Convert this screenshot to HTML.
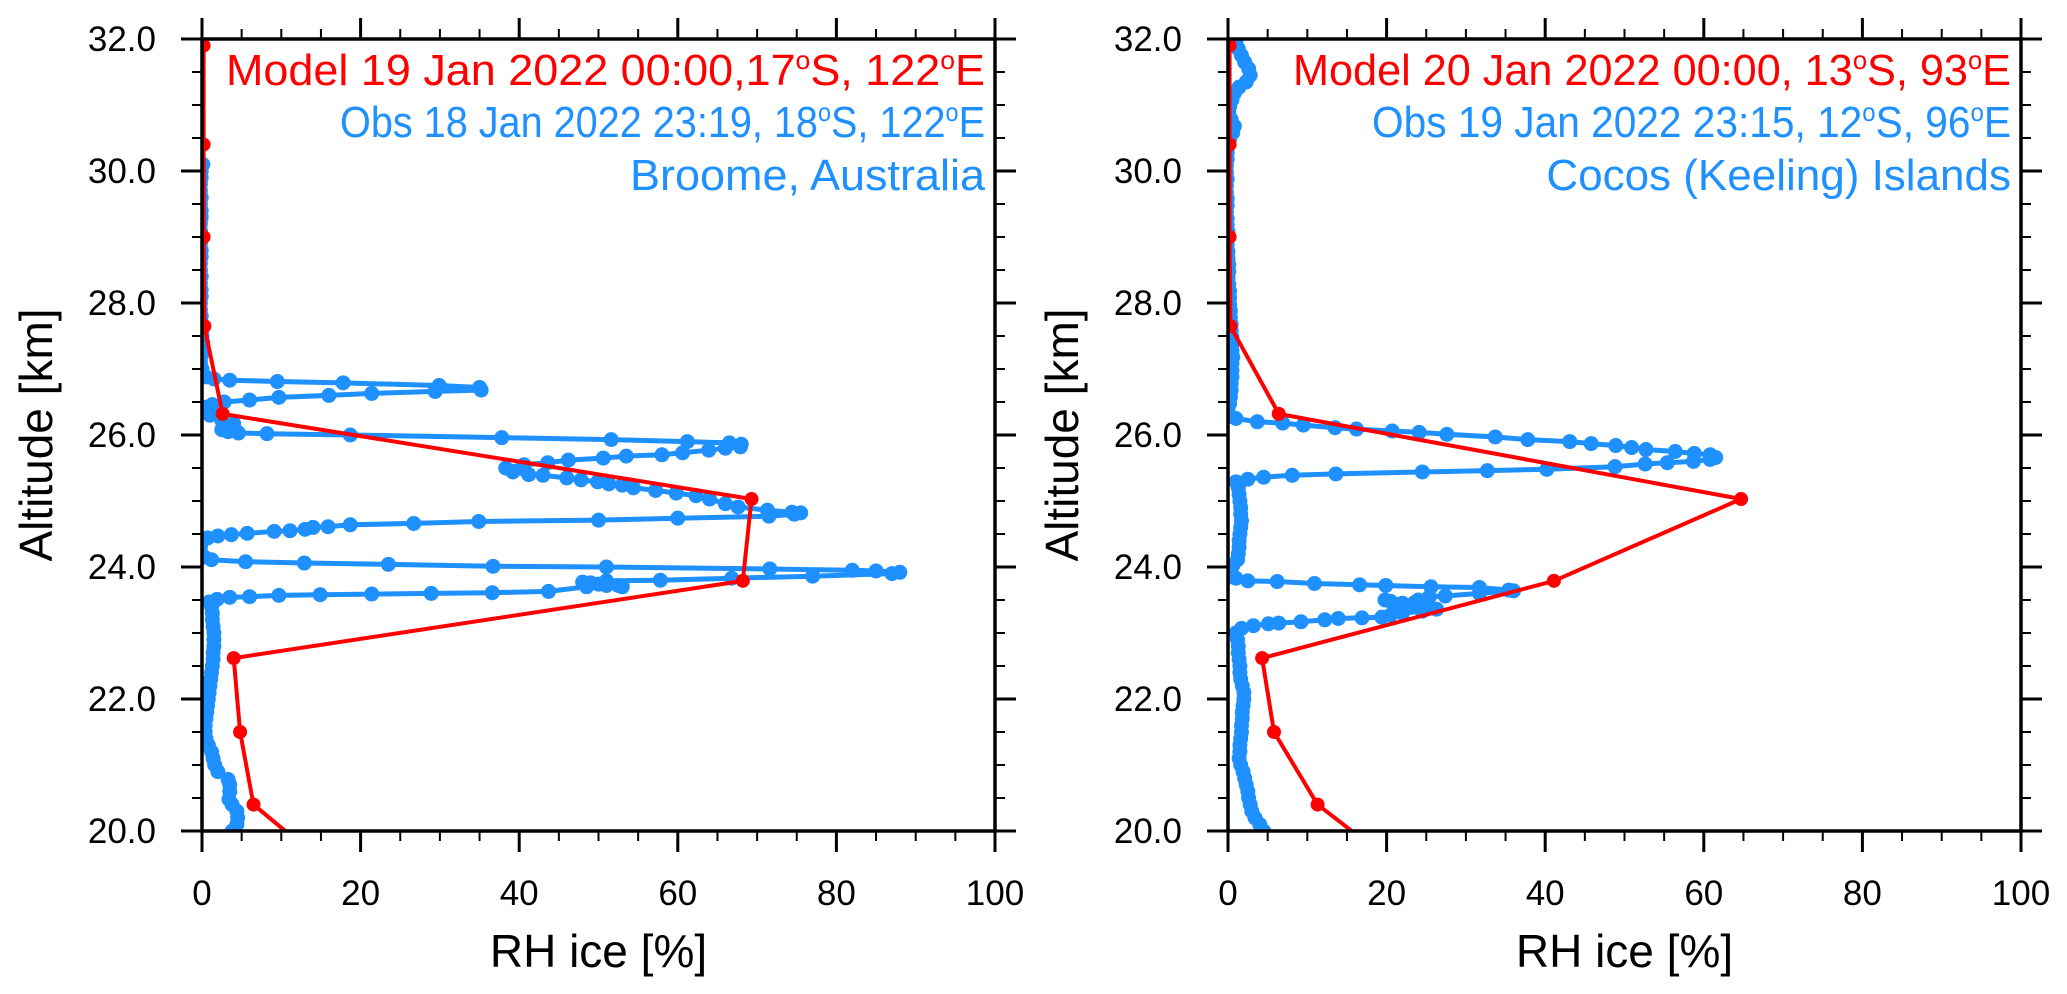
<!DOCTYPE html>
<html><head><meta charset="utf-8"><style>
html,body{margin:0;padding:0;background:#fff;}
svg{display:block;font-family:"Liberation Sans",Arial,sans-serif;}
</style></head><body>
<svg id="fig" width="2067" height="994" viewBox="0 0 2067 994" xmlns="http://www.w3.org/2000/svg">
<defs>
<clipPath id="clipL"><rect x="202" y="39" width="793" height="792"/></clipPath>
<clipPath id="clipR"><rect x="1228" y="39" width="793" height="792"/></clipPath>
</defs>
</svg>
<script>
// ---- data (RH ice %, altitude km) ----
const xTicks = [0, 20, 40, 60, 80, 100];
const xTickLabels = ["0", "20", "40", "60", "80", "100"];
const yTicks = [20, 22, 24, 26, 28, 30, 32];
const yTickLabels = ["20.0", "22.0", "24.0", "26.0", "28.0", "30.0", "32.0"];

const leftModel = [[0.2,31.9],[0.2,30.4],[0.2,29.0],[0.3,27.65],[2.6,26.32],[69.3,25.03],[68.2,23.79],[4.0,22.62],[4.8,21.5],[6.5,20.4],[16,19.45]];
const leftObs = [[0.1,30.1],[-0.1,30.0],[-0.1,29.9],[-0.2,29.8],[-0.2,29.7],[-0.1,29.6],[-0.2,29.5],[-0.1,29.4],[-0.1,29.3],[-0.2,29.2],[-0.2,29.1],[-0.1,29.0],[-0.2,28.9],[-0.1,28.8],[-0.1,28.7],[-0.2,28.6],[-0.2,28.5],[-0.1,28.4],[-0.2,28.3],[-0.1,28.2],[-0.1,28.1],[-0.2,28.0],[-0.2,27.9],[-0.1,27.8],[-0.1,27.7],[0.0,27.6],[0.0,27.5],[0.1,27.4],[0.0,27.3],[-0.1,27.2],[-0.2,27.1],[0.0,27.0],[0.5,26.88],[1.5,26.85],[3.5,26.83],[9.5,26.81],[17.8,26.79],[29.9,26.75],[35,26.72],[35.2,26.68],[29.4,26.66],[21.4,26.63],[16,26.6],[9.7,26.57],[6,26.53],[2.8,26.5],[1.3,26.46],[0.5,26.42],[0.3,26.36],[1,26.3],[2.5,26.22],[4,26.17],[3,26.13],[2.5,26.08],[3.3,26.05],[4.6,26.03],[8.2,26.02],[18.7,26.0],[37.8,25.96],[51.6,25.93],[61.2,25.9],[66.5,25.88],[68,25.86],[67.9,25.82],[66,25.8],[63.9,25.77],[60.6,25.73],[58,25.7],[53.5,25.68],[50.6,25.65],[46.2,25.62],[43.6,25.58],[40.6,25.55],[38.3,25.5],[39.2,25.44],[41.2,25.4],[43,25.39],[46,25.35],[47.8,25.32],[49.9,25.29],[51.3,25.26],[53,25.24],[54.4,25.2],[57.2,25.16],[59.8,25.12],[62.3,25.08],[64,25.03],[66,24.96],[67.6,24.91],[71.3,24.86],[74.4,24.83],[75.5,24.82],[74.7,24.8],[71.5,24.77],[60,24.74],[50,24.71],[34.9,24.69],[26.7,24.66],[18.7,24.64],[15.9,24.61],[14,24.6],[13,24.57],[11.1,24.55],[9.1,24.54],[5.7,24.51],[3.7,24.49],[2,24.47],[0.7,24.44],[0.1,24.4],[-0.2,24.3],[-0.1,24.2],[0.3,24.15],[1.2,24.11],[5.5,24.08],[12.9,24.06],[23.5,24.04],[36.7,24.01],[51,24.0],[71.6,23.97],[82,23.95],[85,23.94],[88,23.92],[87,23.9],[77,23.86],[66.8,23.83],[57.8,23.8],[51,23.79],[49,23.76],[48,23.77],[50,23.74],[52.5,23.72],[53,23.7],[51,23.72],[48.5,23.7],[43.7,23.63],[36.6,23.61],[28.9,23.6],[21.4,23.59],[14.9,23.58],[9.7,23.57],[6,23.55],[3.5,23.54],[1.9,23.51],[0.9,23.47],[1.2,23.4],[1.3,23.3],[1.3,23.2],[1.4,23.1],[1.5,23.0],[1.5,22.9],[1.5,22.8],[1.4,22.7],[1.4,22.6],[1.3,22.5],[1.2,22.4],[1.1,22.3],[1.0,22.2],[0.9,22.1],[0.8,22.0],[0.7,21.9],[0.6,21.8],[0.5,21.7],[0.4,21.6],[0.4,21.5],[0.5,21.4],[0.8,21.3],[1.2,21.2],[1.4,21.1],[1.6,21.0],[2.0,20.9],[3.3,20.78],[3.5,20.7],[3.5,20.6],[3.4,20.48],[3.8,20.4],[4.4,20.3],[4.5,20.2],[4.4,20.1],[3.8,20.0]];

const rightModel = [[0.2,31.9],[0.2,30.4],[0.2,29.0],[0.3,27.65],[6.4,26.32],[64.7,25.03],[41.1,23.79],[4.3,22.62],[5.8,21.5],[11.3,20.4],[21,19.5]];
const rightObs = [[1.0,31.95],[1.3,31.85],[1.7,31.75],[2.1,31.65],[2.6,31.55],[2.8,31.45],[2.3,31.35],[1.4,31.27],[0.8,31.18],[0.5,31.08],[0.2,30.98],[0.1,30.88],[0.4,30.78],[0.8,30.68],[0.6,30.58],[0.2,30.48],[0.0,30.38],[-0.1,30.28],[-0.1,30.18],[-0.2,30.08],[-0.2,29.98],[-0.1,29.88],[-0.2,29.78],[-0.2,29.68],[-0.1,29.58],[-0.1,29.48],[-0.2,29.38],[-0.1,29.28],[-0.1,29.18],[0.0,29.08],[-0.1,28.98],[-0.1,28.88],[0.0,28.78],[0.0,28.68],[0.1,28.58],[0.1,28.48],[0.0,28.38],[0.1,28.28],[0.2,28.18],[0.2,28.08],[0.2,27.98],[0.3,27.88],[0.3,27.78],[0.4,27.68],[0.4,27.58],[0.5,27.48],[0.5,27.38],[0.5,27.28],[0.6,27.18],[0.5,27.08],[0.5,26.98],[0.5,26.88],[0.4,26.78],[0.4,26.68],[0.3,26.58],[0.2,26.48],[0.0,26.4],[-0.1,26.33],[0.2,26.28],[1.0,26.25],[3.7,26.2],[6.9,26.18],[9.5,26.15],[13.5,26.11],[16.2,26.09],[20.7,26.06],[24.1,26.04],[27.6,26.01],[33.7,25.97],[37.8,25.93],[43.1,25.9],[45.8,25.87],[48.9,25.84],[50.9,25.81],[52.7,25.78],[56.4,25.75],[58.8,25.72],[60.8,25.7],[61.5,25.66],[60.8,25.63],[58.7,25.6],[55.4,25.58],[52.6,25.56],[48.8,25.52],[40.2,25.48],[32.7,25.46],[24.5,25.44],[13.6,25.41],[8.1,25.39],[4.5,25.36],[2.5,25.33],[1.0,25.29],[1.3,25.2],[1.4,25.1],[1.5,25.0],[1.6,24.9],[1.6,24.8],[1.7,24.7],[1.6,24.6],[1.5,24.5],[1.4,24.4],[1.4,24.3],[1.3,24.2],[1.2,24.11],[0.6,24.02],[0.0,23.93],[0.2,23.85],[1.0,23.83],[2.5,23.79],[6.2,23.78],[10.9,23.75],[16.6,23.73],[19.9,23.72],[25.6,23.7],[31.7,23.69],[35.4,23.65],[36,23.64],[31.7,23.6],[27.4,23.56],[25.4,23.55],[24,23.5],[23.5,23.46],[22,23.45],[20.5,23.48],[19.8,23.5],[21,23.44],[23,23.4],[25.5,23.38],[26.3,23.36],[24.5,23.33],[22,23.3],[20.5,23.27],[19.4,23.24],[16.9,23.23],[13.9,23.22],[12.2,23.2],[9.2,23.17],[6.4,23.15],[5.1,23.14],[3.2,23.11],[1.7,23.07],[1.0,23.0],[1.2,22.9],[1.3,22.8],[1.3,22.7],[1.4,22.6],[1.5,22.5],[1.5,22.4],[1.6,22.3],[1.8,22.2],[2.0,22.1],[2.0,22.0],[1.9,21.9],[1.8,21.8],[1.8,21.7],[1.7,21.6],[1.7,21.5],[1.6,21.4],[1.5,21.3],[1.5,21.2],[1.4,21.1],[1.6,21.0],[1.9,20.9],[2.1,20.8],[2.3,20.7],[2.5,20.6],[2.6,20.5],[2.8,20.4],[3.0,20.3],[3.4,20.2],[4.0,20.1],[4.5,20.0]];

const leftLegend = ["Model 19 Jan 2022 00:00,17", "S, 122", "E"];
const leftObsLegend = ["Obs 18 Jan 2022 23:19, 18", "S, 122", "E"];
const leftStation = "Broome, Australia";
const rightLegend = ["Model 20 Jan 2022 00:00, 13", "S, 93", "E"];
const rightObsLegend = ["Obs 19 Jan 2022 23:15, 12", "S, 96", "E"];
const rightStation = "Cocos (Keeling) Islands";

const NS = "http://www.w3.org/2000/svg";
const svg = document.getElementById("fig");
const TOP = 39, BOT = 831, W = 793, XMAX = 100, YMIN = 20, YMAX = 32;

function mk(tag, attrs, parent) {
  const e = document.createElementNS(NS, tag);
  for (const k in attrs) e.setAttribute(k, attrs[k]);
  (parent || svg).appendChild(e);
  return e;
}

function drawPanel(side, x0, model, obs, legModel, legObs, station, widths) {
  const sx = v => x0 + v / XMAX * W;
  const sy = v => TOP + (YMAX - v) / (YMAX - YMIN) * (BOT - TOP);
  const g = mk("g", {});
  
  

  const data = mk("g", {"clip-path": "url(#clip" + (side === "left" ? "L" : "R") + ")"}, g);
  
  

  const op = obs.map(p => sx(p[0]).toFixed(1) + "," + sy(p[1]).toFixed(1)).join(" ");
  const oLine = mk("polyline", {points: op, fill: "none", stroke: "#1e90ff", "stroke-width": 5, "stroke-linejoin": "round"}, data);
  
  
  obs.forEach(p => {
    const c = mk("circle", {cx: sx(p[0]), cy: sy(p[1]), r: 7.5, fill: "#1e90ff"}, data);
    
    
  });
  const mp = model.map(p => sx(p[0]).toFixed(1) + "," + sy(p[1]).toFixed(1)).join(" ");
  const mLine = mk("polyline", {points: mp, fill: "none", stroke: "#ff0000", "stroke-width": 4, "stroke-linejoin": "round"}, data);
  
  
  model.forEach(p => {
    const c = mk("circle", {cx: sx(p[0]), cy: sy(p[1]), r: 7, fill: "#ff0000"}, data);
    
    
  });

  const fr = mk("rect", {x: x0, y: TOP, width: W, height: BOT - TOP, fill: "none", stroke: "#000", "stroke-width": 3.5}, g);
  
  

  for (let v = 0; v <= XMAX + 0.01; v += 5) {
    const major = xTicks.includes(v);
    const len = major ? 21 : 10, sw = major ? 3 : 2;
    const x = sx(v);
    const t1 = mk("line", {x1: x, y1: BOT, x2: x, y2: BOT + len, stroke: "#000", "stroke-width": sw}, g);
    
    
    const t2 = mk("line", {x1: x, y1: TOP, x2: x, y2: TOP - len, stroke: "#000", "stroke-width": sw}, g);
    
    
  }
  xTicks.forEach((v, i) => {
    const t = mk("text", {x: sx(v), y: 905, "font-size": 35, "text-anchor": "middle", fill: "#000"}, g);
    t.textContent = xTickLabels[i];
    
    
  });
  for (let v = YMIN; v <= YMAX + 0.001; v += 0.5) {
    const major = Math.abs(v - Math.round(v)) < 0.01 && Math.round(v) % 2 === 0;
    const len = major ? 21 : 10, sw = major ? 3 : 2;
    const y = sy(v);
    const t1 = mk("line", {x1: x0, y1: y, x2: x0 - len, y2: y, stroke: "#000", "stroke-width": sw}, g);
    
    
    const t2 = mk("line", {x1: x0 + W, y1: y, x2: x0 + W + len, y2: y, stroke: "#000", "stroke-width": sw}, g);
    
    
  }
  yTicks.forEach((v, i) => {
    const t = mk("text", {x: x0 - 46, y: sy(v) + 12, "font-size": 35, "text-anchor": "end", fill: "#000"}, g);
    t.textContent = yTickLabels[i];
    
    
  });
  const xt = mk("text", {x: x0 + W / 2, y: 967, "font-size": 46, "text-anchor": "middle", fill: "#000"}, g);
  xt.textContent = "RH ice [%]";
  
  
  const yx = x0 - 150, yy = (TOP + BOT) / 2;
  const yt = mk("text", {x: yx, y: yy, "font-size": 46, "text-anchor": "middle", fill: "#000", transform: "rotate(-90 " + yx + " " + yy + ")"}, g);
  yt.textContent = "Altitude [km]";
  
  

  const rx = x0 + W - 10;
  function legLine(parts, y, color, w, name) {
    const attrs = {x: rx, y: y, "font-size": 44, "text-anchor": "end", fill: color};
    if (w) { attrs.textLength = w; attrs.lengthAdjust = "spacingAndGlyphs"; }
    const t = mk("text", attrs, g);
    
    
    if (typeof parts === "string") { t.textContent = parts; return; }
    const a = mk("tspan", {}, t); a.textContent = parts[0];
    const o1 = mk("tspan", {"font-size": 26, dy: -16}, t); o1.textContent = "o";
    const b = mk("tspan", {dy: 16}, t); b.textContent = parts[1];
    const o2 = mk("tspan", {"font-size": 26, dy: -16}, t); o2.textContent = "o";
    const c = mk("tspan", {dy: 16}, t); c.textContent = parts[2];
  }
  legLine(legModel, 85, "#ff0000", widths[0], side + '-legend-model');
  legLine(legObs, 137, "#1e90ff", widths[1], side + '-legend-obs');
  legLine(station, 190, "#1e90ff", widths[2], side + '-legend-station');
}

drawPanel("left", 202, leftModel, leftObs, leftLegend, leftObsLegend, leftStation, [759, 645, 355]);
drawPanel("right", 1228, rightModel, rightObs, rightLegend, rightObsLegend, rightStation, [718, 639, 0]);
</script>
</body></html>
